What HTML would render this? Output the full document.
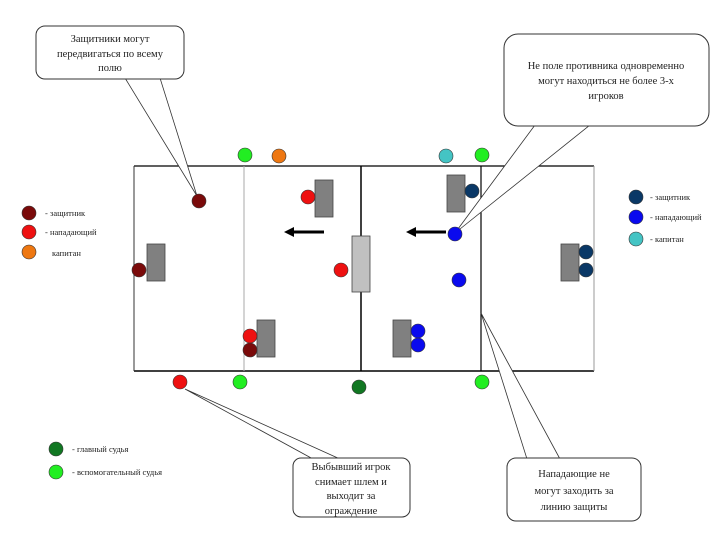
<!DOCTYPE html>
<html><head><meta charset="utf-8"><style>
html,body{margin:0;padding:0;background:#fff;}
svg{display:block;}
text{font-family:"Liberation Serif",serif;fill:#222;}
</style></head><body>
<svg width="720" height="540" viewBox="0 0 720 540" xmlns="http://www.w3.org/2000/svg">
<!-- field -->
<rect x="134" y="166" width="460" height="205" fill="#fff" stroke="none"/>
<line x1="134" y1="166" x2="594" y2="166" stroke="#000" stroke-width="1.2"/>
<line x1="134" y1="371" x2="594" y2="371" stroke="#000" stroke-width="1.5"/>
<line x1="134" y1="166" x2="134" y2="371" stroke="#333" stroke-width="1"/>
<line x1="594" y1="166" x2="594" y2="371" stroke="#999" stroke-width="1"/>
<line x1="244" y1="166" x2="244" y2="371" stroke="#aaa" stroke-width="1"/>
<line x1="361" y1="166" x2="361" y2="371" stroke="#000" stroke-width="1.5"/>
<line x1="481" y1="166" x2="481" y2="371" stroke="#000" stroke-width="1.2"/>
<!-- boxes -->
<g stroke="#444" stroke-width="0.8" fill="#808080">
<rect x="315" y="180" width="18" height="37"/>
<rect x="147" y="244" width="18" height="37"/>
<rect x="257" y="320" width="18" height="37"/>
<rect x="447" y="175" width="18" height="37"/>
<rect x="393" y="320" width="18" height="37"/>
<rect x="561" y="244" width="18" height="37"/>
<rect x="352" y="236" width="18" height="56" fill="#c0c0c0"/>
</g>
<!-- arrows -->
<line x1="324" y1="232" x2="292" y2="232" stroke="#000" stroke-width="3"/>
<polygon points="284,232 294,227 294,237" fill="#000"/>
<line x1="446" y1="232" x2="414" y2="232" stroke="#000" stroke-width="3"/>
<polygon points="406,232 416,227 416,237" fill="#000"/>
<!-- callout tails -->
<g fill="#fff" stroke="#333" stroke-width="0.8">
<polygon points="125,78 197,196 160,78"/>
<polygon points="535,125 455,233 590,125"/>
<polygon points="313,459 185,389 340,459"/>
<polygon points="527,459 481,313 560,459"/>
</g>
<!-- callout boxes -->
<g fill="#fff" stroke="#333" stroke-width="1">
<rect x="36" y="26" width="148" height="53" rx="9"/>
<rect x="504" y="34" width="205" height="92" rx="14"/>
<rect x="293" y="458" width="117" height="59" rx="8"/>
<rect x="507" y="458" width="134" height="63" rx="9"/>
</g>
<g font-size="10.5" text-anchor="middle">
<text x="110" y="42">Защитники могут</text>
<text x="110" y="57">передвигаться по всему</text>
<text x="110" y="71">полю</text>
<text x="606" y="69">Не поле противника одновременно</text>
<text x="606" y="84">могут находиться не более 3-х</text>
<text x="606" y="99">игроков</text>
<text x="351" y="470">Выбывший игрок</text>
<text x="351" y="485">снимает шлем и</text>
<text x="351" y="499">выходит за</text>
<text x="351" y="514">ограждение</text>
<text x="574" y="477">Нападающие не</text>
<text x="574" y="494">могут заходить за</text>
<text x="574" y="510">линию защиты</text>
</g>
<!-- circles -->
<g stroke="#333" stroke-width="0.6">
<circle cx="245" cy="155" r="7" fill="#22ee22"/>
<circle cx="279" cy="156" r="7" fill="#ee7711"/>
<circle cx="446" cy="156" r="7" fill="#44c4c4"/>
<circle cx="482" cy="155" r="7" fill="#22ee22"/>
<circle cx="199" cy="201" r="7" fill="#7a0a0a"/>
<circle cx="308" cy="197" r="7" fill="#ee1111"/>
<circle cx="139" cy="270" r="7" fill="#7a0a0a"/>
<circle cx="341" cy="270" r="7" fill="#ee1111"/>
<circle cx="250" cy="336" r="7" fill="#ee1111"/>
<circle cx="250" cy="350" r="7" fill="#7a0a0a"/>
<circle cx="472" cy="191" r="7" fill="#0a3866"/>
<circle cx="455" cy="234" r="7" fill="#0a0aee"/>
<circle cx="459" cy="280" r="7" fill="#0a0aee"/>
<circle cx="418" cy="331" r="7" fill="#0a0aee"/>
<circle cx="418" cy="345" r="7" fill="#0a0aee"/>
<circle cx="586" cy="252" r="7" fill="#0a3866"/>
<circle cx="586" cy="270" r="7" fill="#0a3866"/>
<circle cx="180" cy="382" r="7" fill="#ee1111"/>
<circle cx="240" cy="382" r="7" fill="#22ee22"/>
<circle cx="359" cy="387" r="7" fill="#117722"/>
<circle cx="482" cy="382" r="7" fill="#22ee22"/>
<!-- legends -->
<circle cx="29" cy="213" r="7" fill="#7a0a0a"/>
<circle cx="29" cy="232" r="7" fill="#ee1111"/>
<circle cx="29" cy="252" r="7" fill="#ee7711"/>
<circle cx="636" cy="197" r="7" fill="#0a3866"/>
<circle cx="636" cy="217" r="7" fill="#0a0aee"/>
<circle cx="636" cy="239" r="7" fill="#44c4c4"/>
<circle cx="56" cy="449" r="7" fill="#117722"/>
<circle cx="56" cy="472" r="7" fill="#22ee22"/>
</g>
<g font-size="8.5">
<text x="45" y="216">- защитник</text>
<text x="45" y="235">- нападающий</text>
<text x="52" y="256">капитан</text>
<text x="650" y="200">- защитник</text>
<text x="650" y="220">- нападающий</text>
<text x="650" y="242">- капитан</text>
<text x="72" y="452">- главный судья</text>
<text x="72" y="475">- вспомогательный судья</text>
</g>
</svg>
</body></html>
